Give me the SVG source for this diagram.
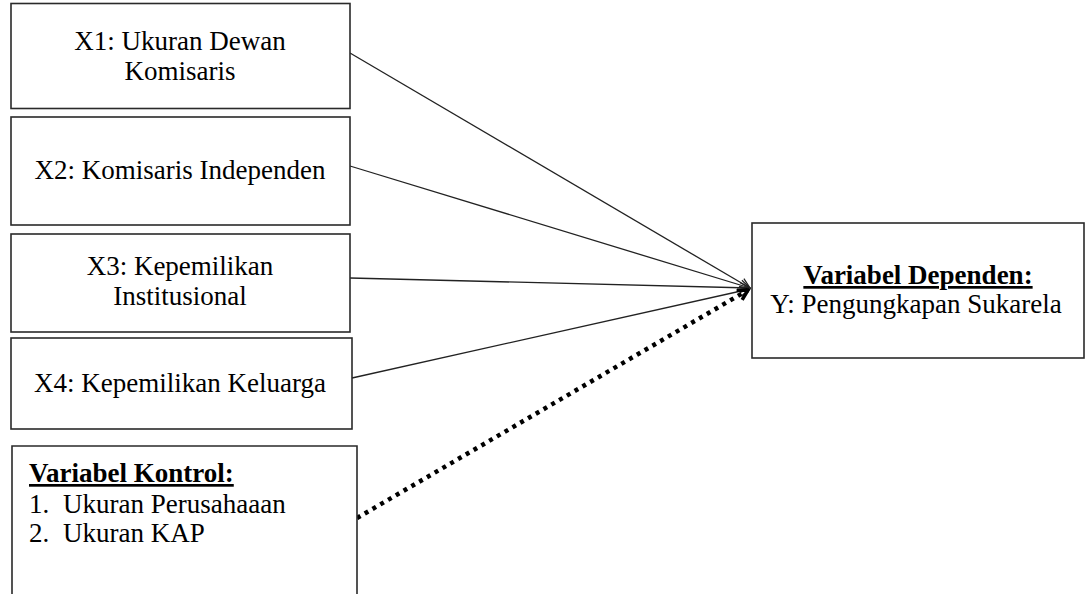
<svg xmlns="http://www.w3.org/2000/svg" width="1091" height="594" viewBox="0 0 1091 594">
<style>
.box{fill:#fff;stroke:#2a2a2a;stroke-width:1.6}
.t{font-family:"Liberation Serif","Times New Roman",serif;font-size:27px;fill:#000}
.c{text-anchor:middle}
.b{font-weight:bold;text-decoration:underline}
.ln{stroke:#222;stroke-width:1.3;fill:none}
.dot{stroke:#000;stroke-width:4.5;fill:none;stroke-dasharray:4 5}
</style>
<defs>
<marker id="ah" viewBox="0 0 12 12" refX="11" refY="6" markerWidth="12" markerHeight="12" markerUnits="userSpaceOnUse" orient="auto">
<path d="M1,1 L11,6 L1,11" fill="none" stroke="#222" stroke-width="1.3"/>
</marker>
<marker id="ahb" viewBox="0 0 14 14" refX="12" refY="7" markerWidth="14" markerHeight="14" markerUnits="userSpaceOnUse" orient="auto">
<path d="M2,1.5 L12,7 L2,12.5" fill="none" stroke="#000" stroke-width="3.5"/>
</marker>
</defs>
<rect width="1091" height="594" fill="#fff"/>
<g id="connectors">
<line class="ln" x1="350" y1="53" x2="750" y2="288" marker-end="url(#ah)"/>
<line class="ln" x1="350" y1="166" x2="750" y2="288" marker-end="url(#ah)"/>
<line class="ln" x1="350" y1="278" x2="750" y2="288" marker-end="url(#ah)"/>
<line class="ln" x1="352" y1="378" x2="750" y2="289" marker-end="url(#ah)"/>
<line class="dot" x1="357" y1="518" x2="748" y2="290" marker-end="url(#ahb)"/>
</g>
<g id="x1">
<rect class="box" x="11" y="3.5" width="339" height="105"/>
<text class="t c" x="180" y="50">X1: Ukuran Dewan</text>
<text class="t c" x="180" y="80">Komisaris</text>
</g>
<g id="x2">
<rect class="box" x="11" y="117" width="339" height="108"/>
<text class="t c" x="180" y="179">X2: Komisaris Independen</text>
</g>
<g id="x3">
<rect class="box" x="11" y="234" width="339" height="98"/>
<text class="t c" x="180" y="275">X3: Kepemilikan</text>
<text class="t c" x="180" y="305">Institusional</text>
</g>
<g id="x4">
<rect class="box" x="11" y="338" width="341" height="91"/>
<text class="t c" x="180" y="392">X4: Kepemilikan Keluarga</text>
</g>
<g id="kontrol">
<path class="box" d="M12,600 V446 H357 V600"/>
<text class="t b" x="29" y="482">Variabel Kontrol:</text>
<text class="t" x="29" y="513">1.</text>
<text class="t" x="63" y="513">Ukuran Perusahaaan</text>
<text class="t" x="29" y="542">2.</text>
<text class="t" x="63" y="542">Ukuran KAP</text>
</g>
<g id="dependen">
<rect class="box" x="752" y="223" width="332" height="135"/>
<text class="t c b" x="918" y="284">Variabel Dependen:</text>
<text class="t c" x="916" y="313">Y: Pengungkapan Sukarela</text>
</g>
</svg>
